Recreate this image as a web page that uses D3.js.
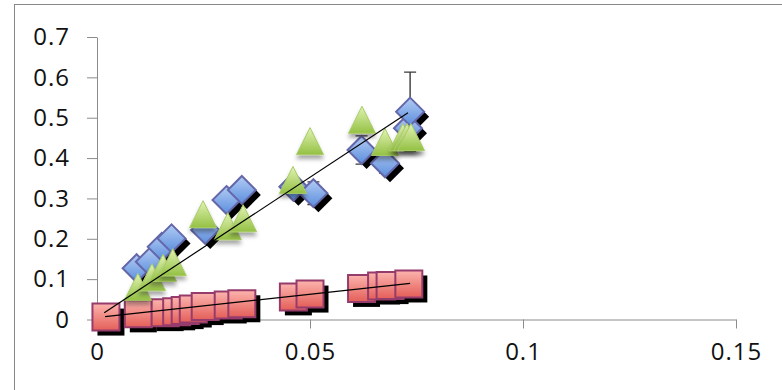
<!DOCTYPE html>
<html>
<head>
<meta charset="utf-8">
<script src="https://cdn.jsdelivr.net/npm/d3@7"></script>
<style>
  body { margin: 0; background: #fff; }
  svg { display: block; }
  .tick text { font-family: "Open Sans", sans-serif; font-size: 24px; fill: #111; letter-spacing: 1px; }
</style>
</head>
<body>
<svg id="chart"></svg>
<script>
// tick values
const xTicks = [0, 0.05, 0.1, 0.15];
const yTicks = [0, 0.1, 0.2, 0.3, 0.4, 0.5, 0.6, 0.7];

// series 1 (blue diamonds) with y error
const blueX = [0.0093, 0.0124, 0.0152, 0.0175, 0.0254, 0.0304, 0.034, 0.0461, 0.0508, 0.0621, 0.0676, 0.073, 0.0735];
const blueY = [0.127, 0.143, 0.180, 0.201, 0.222, 0.296, 0.321, 0.329, 0.313, 0.420, 0.387, 0.474, 0.515];
const blueErr = [0.02, 0.02, 0.02, 0.02, 0.018, 0.02, 0.02, 0.02, 0.028, 0.035, 0.024, 0.02, 0.098];

// series 2 (red squares)
const redX = [0.0021, 0.0097, 0.016, 0.0187, 0.0207, 0.0226, 0.0254, 0.0308, 0.034, 0.0461, 0.050, 0.0621, 0.0668, 0.0688, 0.0732];
const redY = [0.006, 0.014, 0.017, 0.019, 0.022, 0.026, 0.032, 0.036, 0.039, 0.056, 0.063, 0.077, 0.083, 0.084, 0.088];

// series 3 (green triangles)
const greenX = [0.0096, 0.0129, 0.0155, 0.0178, 0.0249, 0.0307, 0.0343, 0.046, 0.050, 0.0622, 0.0676, 0.0718, 0.0728, 0.0737];
const greenY = [0.081, 0.105, 0.128, 0.142, 0.261, 0.231, 0.251, 0.346, 0.442, 0.495, 0.440, 0.452, 0.452, 0.452];

// linear trendlines (end points)
const blueTrendX = [0.0017, 0.0730];
const blueTrendY = [0.017, 0.512];
const redTrendX = [0.0019, 0.0735];
const redTrendY = [0.007, 0.0897];

const width = 782, height = 390;
const svg = d3.select('#chart').attr('width', width).attr('height', height);

const x = d3.scaleLinear().domain([0, 0.15]).range([97, 736]);
const y = d3.scaleLinear().domain([0, 0.7]).range([319.5, 37]);

const defs = svg.append('defs');

function vGrad(id, top, bottom) {
    const g = defs.append('linearGradient').attr('id', id)
        .attr('x1', 0).attr('y1', 0).attr('x2', 0).attr('y2', 1);
    g.append('stop').attr('offset', '0%').attr('stop-color', top);
    g.append('stop').attr('offset', '100%').attr('stop-color', bottom);
}
vGrad('gBlue', '#b3ccf4', '#5b8edd');
vGrad('gRed', '#fcb4ae', '#e45e58');
vGrad('gGreen', '#e2f3b4', '#94c144');

const soft = defs.append('filter').attr('id', 'soft')
    .attr('x', '-50%').attr('y', '-50%').attr('width', '200%').attr('height', '200%');
soft.append('feDropShadow').attr('dx', 0).attr('dy', 4).attr('stdDeviation', 2.2)
    .attr('flood-color', '#000').attr('flood-opacity', 0.35);

// outer chart frame
svg.append('rect')
    .attr('x', 14.5).attr('y', 4.5)
    .attr('width', 800).attr('height', 400)
    .attr('fill', 'none').attr('stroke', '#878787').attr('stroke-width', 1);

// axes
const yAxis = svg.append('g')
    .attr('transform', `translate(${x(0)},0)`)
    .call(d3.axisLeft(y).tickValues(yTicks).tickSize(10).tickSizeOuter(0).tickPadding(17)
        .tickFormat(d => d === 0 ? '0' : d3.format('.1f')(d)));

const xAxis = svg.append('g')
    .attr('transform', `translate(0,${y(0)})`)
    .call(d3.axisBottom(x).tickValues(xTicks).tickSize(9).tickSizeOuter(0).tickPadding(14)
        .tickFormat(d => d === 0 ? '0' : String(+d.toFixed(2))));

[xAxis, yAxis].forEach(a => {
    a.select('.domain').attr('stroke', '#8c8c8c');
    a.selectAll('.tick line').attr('stroke', '#8c8c8c');
    a.selectAll('.tick text').attr('font-size', null).attr('font-family', null);
});

const plot = svg.append('g');

// marker shapes
const diamond = r => `M0,${-r}L${r},0L0,${r}L${-r},0Z`;
const square = s => `M${-s / 2},${-s / 2}h${s}v${s}h${-s}Z`;
const triangle = s => `M0,${-s / 2}L${s / 2},${s / 2}L${-s / 2},${s / 2}Z`;

const blue = blueX.map((v, i) => ({ x: v, y: blueY[i], e: blueErr[i] }));
const red = redX.map((v, i) => ({ x: v, y: redY[i] }));
const green = greenX.map((v, i) => ({ x: v, y: greenY[i] }));

// blue error bars
const err = plot.append('g').attr('stroke', '#3a3a3a').attr('stroke-width', 1.4);
err.selectAll('.ebar')
    .data(blue)
    .enter()
    .append('path')
    .attr('fill', 'none')
    .attr('d', d => {
        const cx = x(d.x), y0 = y(d.y - d.e), y1 = y(d.y + d.e);
        return `M${cx},${y0}V${y1}M${cx - 6},${y0}h12M${cx - 6},${y1}h12`;
    });

function drawSeries(data, path, fill, stroke, sw, shadow) {
    const g = plot.append('g');
    if (shadow) {
        g.selectAll('.shadow')
            .data(data)
            .enter()
            .append('path')
            .attr('d', path)
            .attr('transform', d => `translate(${x(d.x) + 5},${y(d.y) + 5})`)
            .attr('fill', '#000');
    }
    const m = g.selectAll('.mark')
        .data(data)
        .enter()
        .append('path')
        .attr('d', path)
        .attr('transform', d => `translate(${x(d.x)},${y(d.y)})`)
        .attr('fill', fill)
        .attr('stroke', stroke)
        .attr('stroke-width', sw)
        .attr('stroke-linejoin', 'miter');
    if (!shadow) m.attr('filter', 'url(#soft)');
}

drawSeries(blue, diamond(14), 'url(#gBlue)', '#6467a9', 2, true);
drawSeries(red, square(27), 'url(#gRed)', '#963c6c', 2, true);
drawSeries(green, triangle(27), 'url(#gGreen)', '#a9cc66', 1, false);

// trendlines
const line = d3.line().x(d => x(d[0])).y(d => y(d[1]));
plot.append('path')
    .attr('d', line(blueTrendX.map((v, i) => [v, blueTrendY[i]])))
    .attr('stroke', '#000').attr('stroke-width', 1.2).attr('fill', 'none');
plot.append('path')
    .attr('d', line(redTrendX.map((v, i) => [v, redTrendY[i]])))
    .attr('stroke', '#000').attr('stroke-width', 1.2).attr('fill', 'none');
</script>
</body>
</html>
